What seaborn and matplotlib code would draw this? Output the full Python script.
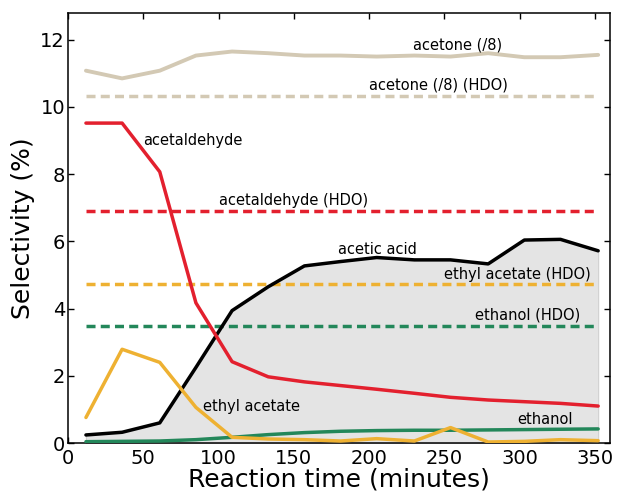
import numpy as np
import pandas as pd
import matplotlib
matplotlib.use("Agg")
import matplotlib.pyplot as plt
import seaborn as sns

# Reaction time (minutes)
time = [12, 36, 61, 85, 109, 133, 157, 181, 205, 230, 254, 279, 303, 327, 352]

# Selectivity (%)
acetone = [11.08, 10.85, 11.08, 11.53, 11.65, 11.6, 11.53, 11.53, 11.5, 11.53, 11.5, 11.6, 11.48, 11.48, 11.55]
acetaldehyde = [9.52, 9.52, 8.07, 4.17, 2.42, 1.97, 1.82, 1.71, 1.6, 1.48, 1.36, 1.28, 1.23, 1.18, 1.1]
acetic_acid = [0.24, 0.32, 0.6, 2.25, 3.94, 4.65, 5.27, 5.4, 5.52, 5.45, 5.45, 5.33, 6.04, 6.06, 5.72]
ethyl_acetate = [0.76, 2.79, 2.4, 1.06, 0.17, 0.12, 0.1, 0.06, 0.13, 0.06, 0.46, 0.03, 0.05, 0.1, 0.07]
ethanol = [0.04, 0.05, 0.06, 0.1, 0.17, 0.25, 0.31, 0.35, 0.37, 0.38, 0.38, 0.39, 0.4, 0.41, 0.42]

# HDO reference levels
hdo_names = ["acetone (/8) (HDO)", "acetaldehyde (HDO)", "ethyl acetate (HDO)", "ethanol (HDO)"]
hdo_values = [10.33, 6.91, 4.72, 3.48]

# colours
c_acetone = "#d3c9b4"
c_red = "#e3202e"
c_orange = "#eeb132"
c_green = "#23875a"

sns.set_style("ticks")
plt.rcParams['font.family'] = ['DejaVu Sans']
plt.rcParams['text.color'] = 'black'
plt.rcParams['axes.labelcolor'] = 'black'

df = pd.DataFrame({
    "time": time,
    "acetone": acetone,
    "acetaldehyde": acetaldehyde,
    "acetic acid": acetic_acid,
    "ethyl acetate": ethyl_acetate,
    "ethanol": ethanol,
})

fig = plt.figure(figsize=(6.17, 4.95), dpi=100)
ax = fig.add_axes([0.110, 0.105, 0.879, 0.869])

# acetic acid area
ax.fill_between(df["time"], df["acetic acid"], 0, color="#e4e4e4", edgecolor="#cfcfcf", lw=0.8, zorder=1)

lw = 2.5
sns.lineplot(data=df, x="time", y="acetone", color=c_acetone, lw=2.8, ax=ax, zorder=3)
sns.lineplot(data=df, x="time", y="acetic acid", color="black", lw=lw, ax=ax, zorder=3)
sns.lineplot(data=df, x="time", y="acetaldehyde", color=c_red, lw=lw, ax=ax, zorder=4)
sns.lineplot(data=df, x="time", y="ethanol", color=c_green, lw=lw, ax=ax, zorder=3)
sns.lineplot(data=df, x="time", y="ethyl acetate", color=c_orange, lw=lw, ax=ax, zorder=4)

# HDO levels as dashed horizontal lines
hdo_colors = [c_acetone, c_red, c_orange, c_green]
for name, val, col in zip(hdo_names, hdo_values, hdo_colors):
    sns.lineplot(x=[time[0], time[-1]], y=[val, val], color=col, lw=lw,
                 dashes=False, ax=ax, zorder=2).lines[-1].set_dashes([2.6, 1.5])

# labels on the curves
fs = 10.5
ax.text(259, 11.85, "acetone (/8)", fontsize=fs, ha="center", va="center")
ax.text(246, 10.65, "acetone (/8) (HDO)", fontsize=fs, ha="center", va="center")
ax.text(50, 9.0, "acetaldehyde", fontsize=fs, ha="left", va="center")
ax.text(149.5, 7.21, "acetaldehyde (HDO)", fontsize=fs, ha="center", va="center")
ax.text(205.5, 5.76, "acetic acid", fontsize=fs, ha="center", va="center")
ax.text(298.5, 5.0, "ethyl acetate (HDO)", fontsize=fs, ha="center", va="center")
ax.text(305, 3.81, "ethanol (HDO)", fontsize=fs, ha="center", va="center")
ax.text(89.5, 1.1, "ethyl acetate", fontsize=fs, ha="left", va="center")
ax.text(317, 0.70, "ethanol", fontsize=fs, ha="center", va="center")

ax.set_xlim(0, 360)
ax.set_ylim(0, 12.8)
ax.set_xticks(range(0, 351, 50))
ax.set_yticks(range(0, 13, 2))
ax.tick_params(direction="in", top=True, right=True, length=4, width=1, labelsize=14, colors="black")
ax.tick_params(axis="y", pad=2)
ax.tick_params(axis="x", pad=4)
for s in ax.spines.values():
    s.set_visible(True)
    s.set_linewidth(1.1)
    s.set_color("black")

ax.set_xlabel("Reaction time (minutes)", fontsize=18, labelpad=0)
ax.set_ylabel("Selectivity (%)", fontsize=18, labelpad=4)

fig.savefig("out.png", dpi=100)
